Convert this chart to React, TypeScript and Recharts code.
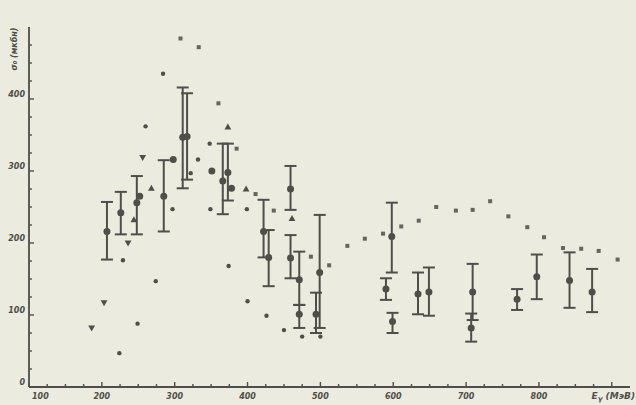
import React from 'react';
import { ScatterChart, Scatter, XAxis, YAxis, ErrorBar } from 'recharts';

// Old scanned plot: cross section vs photon energy, several data sets.
const INK = '#4f4f49';
const PAPER = '#ecebe0';

// points with error bars
const barE = [207, 226, 248, 285, 311, 317, 366, 373, 422, 429, 459, 459, 471, 471, 499, 494, 598, 590, 599, 634, 649, 709, 707, 770, 797, 842, 873];
const barSigma = [216, 242, 256, 265, 347, 348, 286, 298, 216, 180, 275, 179, 149, 101, 159, 101, 209, 136, 91, 129, 132, 132, 82, 122, 153, 148, 132];
const barLow = [177, 212, 212, 216, 276, 288, 240, 259, 180, 140, 246, 151, 114, 82, 82, 75, 159, 121, 75, 101, 99, 93, 63, 107, 122, 110, 104];
const barHigh = [257, 271, 293, 315, 416, 408, 338, 338, 260, 218, 307, 211, 188, 114, 239, 131, 256, 151, 103, 159, 166, 171, 102, 136, 184, 187, 164];

// large circles without bars
const circleE = [252, 298, 351, 378];
const circleSigma = [265, 316, 300, 276];

// small square "x" marks
const crossE = [308, 333, 360, 385, 411, 436, 487, 512, 537, 561, 586, 611, 635, 659, 686, 709, 733, 758, 784, 807, 833, 858, 882, 908];
const crossSigma = [484, 472, 394, 331, 268, 245, 181, 169, 196, 206, 213, 223, 231, 250, 245, 246, 258, 237, 222, 208, 193, 192, 189, 177];

// small dots
const dotE = [284, 260, 348, 332, 297, 349, 399, 374, 400, 426, 450, 475, 500, 274, 249, 224, 229, 322];
const dotSigma = [435, 362, 338, 316, 247, 247, 247, 168, 119, 99, 79, 70, 70, 147, 88, 47, 176, 297];

// triangles
const triE = [373, 268, 398, 461, 244];
const triSigma = [361, 276, 275, 234, 232];

// inverted triangles
const invE = [256, 236, 203, 186];
const invSigma = [319, 200, 117, 82];

const xTicks = [100, 125, 150, 175, 200, 225, 250, 275, 300, 325, 350, 375, 400, 425, 450, 475, 500, 525, 550, 575, 600, 625, 650, 675, 700, 725, 750, 775, 800, 825, 850, 875, 900];
const xLabels = ['100', '200', '300', '400', '500', '600', '700', '800'];
const yTicks = [0, 25, 50, 75, 100, 125, 150, 175, 200, 225, 250, 275, 300, 325, 350, 375, 400, 425, 450, 475];
const yLabels = ['0', '100', '200', '300', '400'];

const zip = (xs: number[], ys: number[]) => xs.map((e, i) => ({ e, s: ys[i] }));

const barData = barE.map((e, i) => ({
  e,
  s: barSigma[i],
  err: [barSigma[i] - barLow[i], barHigh[i] - barSigma[i]],
}));

const labelFont = {
  fontFamily: '"DejaVu Sans", sans-serif',
  fontSize: 8,
  fontWeight: 700,
  fontStyle: 'italic' as const,
  fill: INK,
};

const XTick = (props: any) => {
  const { x, y, payload } = props;
  const v = payload.value;
  const major = v % 100 === 0;
  const label = xLabels.find((l) => Number(l) === v);
  return (
    <g>
      <line x1={x} x2={x} y1={y} y2={y - (major ? 5 : 3)} stroke={INK} strokeWidth={1.4} />
      {label && (
        <text x={v === 100 ? x + 3 : x} y={y + 12} textAnchor={v === 100 ? 'start' : 'middle'} {...labelFont}>
          {label}
        </text>
      )}
    </g>
  );
};

const YTick = (props: any) => {
  const { x, y, payload } = props;
  const v = payload.value;
  const major = v % 100 === 0;
  const label = yLabels.find((l) => Number(l) === v);
  return (
    <g>
      {v > 0 && <line x1={x} x2={x + (major ? 5 : 3)} y1={y} y2={y} stroke={INK} strokeWidth={1.4} />}
      {label && (
        <text x={x - 4} y={y - 2} textAnchor="end" {...labelFont}>
          {label}
        </text>
      )}
    </g>
  );
};

const YLabel = (props: any) => {
  const vb = props.viewBox || { x: 0, y: 27 };
  const tx = vb.x + 17;
  const ty = vb.y + 22;
  return (
    <text x={tx} y={ty} transform={`rotate(-90 ${tx} ${ty})`} textAnchor="middle" {...labelFont}>
      σ₀ (мкбн)
    </text>
  );
};

const XLabel = (props: any) => {
  const vb = props.viewBox || { x: 29, y: 387, width: 601 };
  return (
    <text x={vb.x + vb.width + 5} y={vb.y + 12} textAnchor="end" {...labelFont} fontSize={9}>
      E<tspan fontSize={7} dy={2}>γ</tspan>
      <tspan dy={-2}> (МэВ)</tspan>
    </text>
  );
};

const BigDot = (p: any) => <circle cx={p.cx} cy={p.cy} r={3.5} fill={INK} />;
const SmallDot = (p: any) => <circle cx={p.cx} cy={p.cy} r={2.2} fill={INK} />;
const Square = (p: any) => (
  <rect x={p.cx - 2} y={p.cy - 2} width={4} height={4} fill={INK} opacity={0.85} />
);
const Tri = (p: any) => (
  <path d={`M${p.cx},${p.cy - 3.6} L${p.cx + 3.4},${p.cy + 2.4} L${p.cx - 3.4},${p.cy + 2.4} Z`} fill={INK} />
);
const InvTri = (p: any) => (
  <path d={`M${p.cx},${p.cy + 3.6} L${p.cx + 3.4},${p.cy - 2.4} L${p.cx - 3.4},${p.cy - 2.4} Z`} fill={INK} />
);

export default function App() {
  return (
    <div style={{ position: 'absolute', left: 0, top: 0, width: 636, height: 405, background: PAPER }}>
      <ScatterChart width={636} height={405} margin={{ top: 27, right: 6, bottom: 0, left: 0 }}>
        <XAxis
          type="number"
          dataKey="e"
          domain={[100, 925]}
          ticks={xTicks}
          interval={0}
          tickSize={0}
          tickMargin={0}
          tick={<XTick />}
          height={18}
          stroke={INK}
          strokeWidth={1.8}
          allowDataOverflow
          label={<XLabel />}
        />
        <YAxis
          type="number"
          dataKey="s"
          domain={[0, 500]}
          ticks={yTicks}
          interval={0}
          tickSize={0}
          tickMargin={0}
          tick={<YTick />}
          width={29}
          stroke={INK}
          strokeWidth={1.8}
          allowDataOverflow
          label={<YLabel />}
        />
        <Scatter data={barData} shape={BigDot} isAnimationActive={false}>
          <ErrorBar dataKey="err" direction="y" width={6} stroke={INK} strokeWidth={2} isAnimationActive={false} />
        </Scatter>
        <Scatter data={zip(circleE, circleSigma)} shape={BigDot} isAnimationActive={false} />
        <Scatter data={zip(crossE, crossSigma)} shape={Square} isAnimationActive={false} />
        <Scatter data={zip(dotE, dotSigma)} shape={SmallDot} isAnimationActive={false} />
        <Scatter data={zip(triE, triSigma)} shape={Tri} isAnimationActive={false} />
        <Scatter data={zip(invE, invSigma)} shape={InvTri} isAnimationActive={false} />
      </ScatterChart>
    </div>
  );
}
